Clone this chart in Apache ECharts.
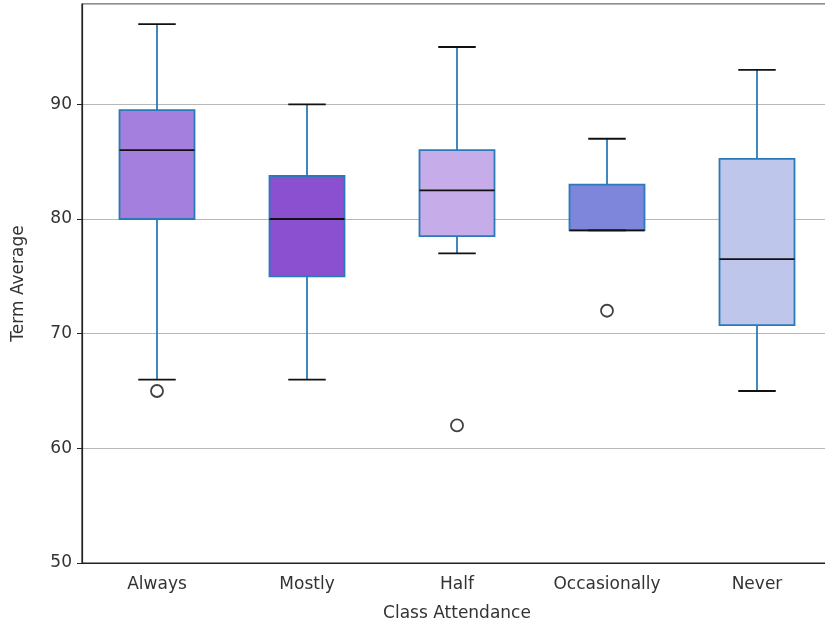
<!DOCTYPE html>
<html><head><meta charset="utf-8">
<script src="https://cdn.jsdelivr.net/npm/echarts@6/dist/echarts.min.js"></script>
<style>html,body{margin:0;padding:0;background:#fff}#c{width:825px;height:625px}</style>
</head><body><div id="c"></div>
<script>
const categories = ["Always", "Mostly", "Half", "Occasionally", "Never"];
const whiskerLow = [66, 66, 77, 79, 65];
const q1 = [80, 75, 78.5, 79, 70.75];
const median = [86, 80, 82.5, 79, 76.5];
const q3 = [89.5, 83.75, 86, 83, 85.25];
const whiskerHigh = [97, 90, 95, 87, 93];
const outliers = [["Always", 65], ["Half", 62], ["Occasionally", 72]];
const boxColors = ["#a57fdd", "#8a50d0", "#c6ace8", "#7e86dc", "#bec6ec"];
const yTicks = [50, 60, 70, 80, 90];

const font = "'DejaVu Sans', sans-serif";
const chart = echarts.init(document.getElementById('c'), null, {renderer: 'canvas'});
const boxData = categories.map((c, i) => [i, whiskerLow[i], q1[i], median[i], q3[i], whiskerHigh[i]]);

chart.setOption({
  animation: false,
  backgroundColor: '#fff',
  grid: {left: 82, top: 4, width: 750, height: 559, outerBoundsMode: 'none', containLabel: false,
    show: true, borderColor: '#222', borderWidth: 1.2, backgroundColor: 'transparent'},
  xAxis: {
    type: 'category', data: categories,
    axisLine: {lineStyle: {color: '#222', width: 1.2}},
    axisTick: {alignWithLabel: true, length: 5, lineStyle: {color: '#222'}},
    axisLabel: {color: '#333', fontSize: 17, fontFamily: font, margin: 13},
    name: 'Class Attendance', nameLocation: 'middle', nameGap: 42,
    nameTextStyle: {color: '#333', fontSize: 17, fontFamily: font},
    splitLine: {show: false}
  },
  yAxis: {
    type: 'value', min: 50, max: 98.75, interval: 10,
    axisLine: {show: true, lineStyle: {color: '#222', width: 1.2}},
    axisTick: {show: true, length: 5, lineStyle: {color: '#222'}},
    axisLabel: {color: '#333', fontSize: 17, fontFamily: font, margin: 10, showMaxLabel: false,
      formatter: v => yTicks.includes(v) ? String(v) : ''},
    splitLine: {show: true, lineStyle: {color: '#b8b8b8', width: 1}},
    name: 'Term Average', nameLocation: 'middle', nameGap: 55, nameRotate: 90,
    nameTextStyle: {color: '#333', fontSize: 17, fontFamily: font}
  },
  series: [
    {
      type: 'custom',
      data: boxData,
      encode: {x: 0, y: [1, 2, 3, 4, 5]},
      z: 5,
      renderItem: function (params, api) {
        const i = api.value(0);
        const bw = api.size([1, 0])[0];
        const half = bw * 0.25;
        const capHalf = bw * 0.125;
        const pLow = api.coord([i, api.value(1)]);
        const pQ1 = api.coord([i, api.value(2)]);
        const pMed = api.coord([i, api.value(3)]);
        const pQ3 = api.coord([i, api.value(4)]);
        const pHigh = api.coord([i, api.value(5)]);
        const x = pQ1[0];
        const blue = '#2a7ab9';
        return {
          type: 'group',
          children: [
            {type: 'line', shape: {x1: x, y1: pQ3[1], x2: x, y2: pHigh[1]}, style: {stroke: blue, lineWidth: 1.8}},
            {type: 'line', shape: {x1: x, y1: pQ1[1], x2: x, y2: pLow[1]}, style: {stroke: blue, lineWidth: 1.8}},
            {type: 'rect', shape: {x: x - half, y: pQ3[1], width: half * 2, height: pQ1[1] - pQ3[1]},
              style: {fill: boxColors[i], stroke: blue, lineWidth: 1.8}},
            {type: 'line', shape: {x1: x - half, y1: pMed[1], x2: x + half, y2: pMed[1]}, style: {stroke: '#111', lineWidth: 1.8}},
            {type: 'line', shape: {x1: x - capHalf, y1: pHigh[1], x2: x + capHalf, y2: pHigh[1]}, style: {stroke: '#111', lineWidth: 1.8}},
            {type: 'line', shape: {x1: x - capHalf, y1: pLow[1], x2: x + capHalf, y2: pLow[1]}, style: {stroke: '#111', lineWidth: 1.8}}
          ]
        };
      }
    },
    {
      type: 'scatter',
      data: outliers,
      symbol: 'circle', symbolSize: 12,
      itemStyle: {color: 'transparent', borderColor: '#111', borderWidth: 1.8},
      z: 6
    }
  ]
});
</script></body></html>
